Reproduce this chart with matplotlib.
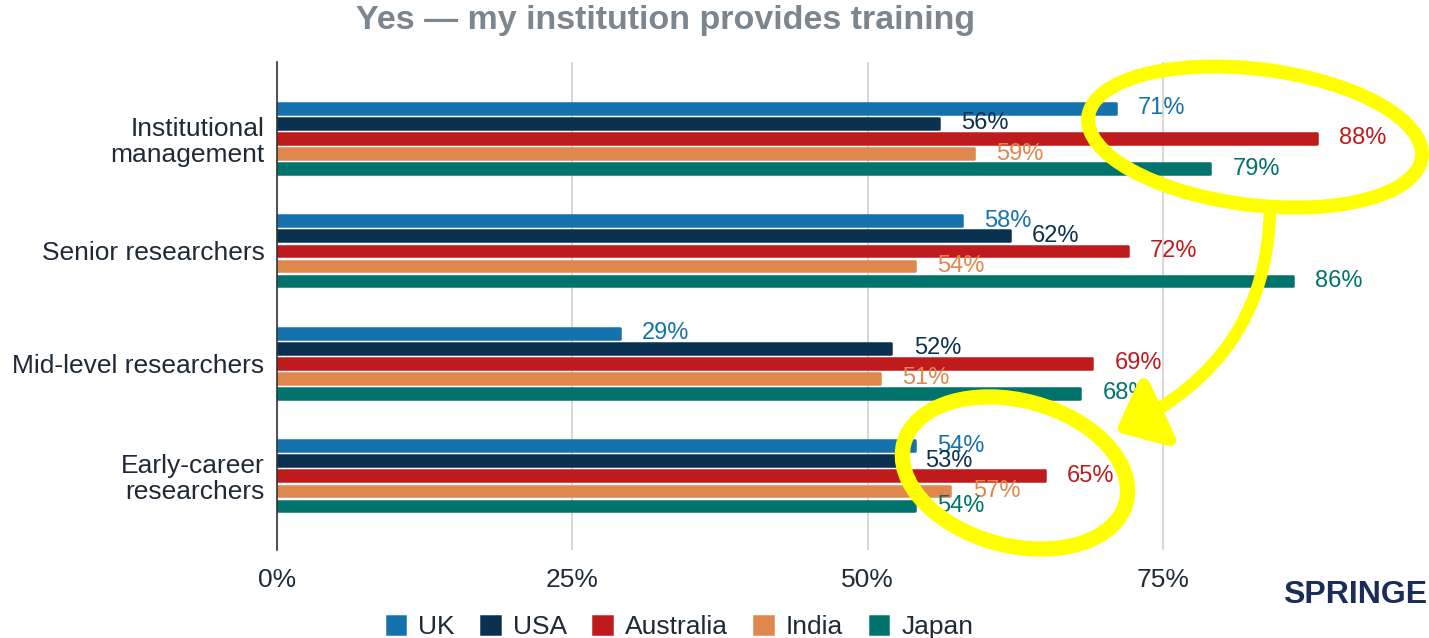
import matplotlib.pyplot as plt
import numpy as np
from matplotlib.patches import Ellipse, FancyArrowPatch

plt.rcParams['font.family'] = ['Liberation Sans', 'DejaVu Sans']

categories = ['Institutional\nmanagement', 'Senior researchers',
              'Mid-level researchers', 'Early-career\nresearchers']
countries = ['UK', 'USA', 'Australia', 'India', 'Japan']
uk = [71, 58, 29, 54]
usa = [56, 62, 52, 53]
australia = [88, 72, 69, 65]
india = [59, 54, 51, 57]
japan = [79, 86, 68, 54]
series = [uk, usa, australia, india, japan]
colors = ['#1672ad', '#0b3150', '#bf1a1c', '#df874d', '#00736c']
xticks = [0, 25, 50, 75]

fig = plt.figure(figsize=(14.29, 6.38), dpi=100)
ax = fig.add_axes([277 / 1429, 88 / 638, 1 - 277 / 1429, (638 - 62 - 88) / 638])

y = np.arange(len(categories))
step = 0.134
bar_h = 0.095
for i, (name, vals) in enumerate(zip(countries, series)):
    pos = y + (i - 2) * step
    ax.barh(pos, vals, height=bar_h, color=colors[i], edgecolor=colors[i],
            linewidth=1.8, joinstyle='round', label=name, zorder=3)
    for p, v in zip(pos, vals):
        ax.annotate(f'{v}%', (v, p), xytext=(16, 0), textcoords='offset points',
                    ha='left', va='center', fontsize=17, color=colors[i], zorder=4)

ax.set_xlim(0, 97.5)
ax.set_ylim(3.66, -0.68)
ax.set_xticks(xticks)
ax.set_xticklabels([f'{t}%' for t in xticks])
ax.set_yticks(y)
ax.set_yticklabels(categories, linespacing=1.1)
ax.tick_params(axis='x', length=0, pad=13, labelsize=19, labelcolor='#1e2b37')
ax.tick_params(axis='y', length=0, pad=9, labelsize=19, labelcolor='#1e2b37')
for lbl in ax.get_yticklabels():
    lbl.set_y(lbl.get_position()[1])
ax.grid(axis='x', color='#d9d9d9', linewidth=1.5, zorder=0)
for s in ['top', 'right', 'bottom']:
    ax.spines[s].set_visible(False)
ax.spines['left'].set_color('#333333')
ax.spines['left'].set_linewidth(1.2)
ax.spines['left'].set_zorder(5)

fig.text(666 / 1429, 1 - 21 / 638, 'Yes \u2014 my institution provides training',
         ha='center', va='center', fontsize=24.5, fontweight='bold', color='#7b868f')

fig.legend(loc='center', bbox_to_anchor=(680 / 1429, 11 / 638), ncol=5, frameon=False,
           fontsize=19, handlelength=0.7, handleheight=0.7, handletextpad=0.5,
           columnspacing=1.0, labelcolor='#1e2b37')

fig.text(1283 / 1429, 1 - 595 / 638, 'SPRINGER', ha='left', va='center',
         fontsize=23, fontweight='bold', color='#1b2c5c')

# yellow highlight annotations (positions in inches)
tr = fig.dpi_scale_trans
fig.add_artist(Ellipse((12.55, 6.38 - 1.37), 3.36, 1.36, angle=-7, fill=False,
                       edgecolor='#ffff00', linewidth=10, transform=tr, zorder=10))
fig.add_artist(Ellipse((10.15, 6.38 - 4.73), 2.30, 1.45, angle=-15, fill=False,
                       edgecolor='#ffff00', linewidth=11, transform=tr, zorder=10))
fig.add_artist(FancyArrowPatch((12.70, 6.38 - 2.05), (11.13, 6.38 - 4.33),
                               connectionstyle='angle3,angleA=90,angleB=25',
                               arrowstyle='-|>,head_length=1.3,head_width=1.1',
                               mutation_scale=20, color='#ffff00', linewidth=9,
                               transform=tr, zorder=10))

fig.savefig('out.png', dpi=100)
